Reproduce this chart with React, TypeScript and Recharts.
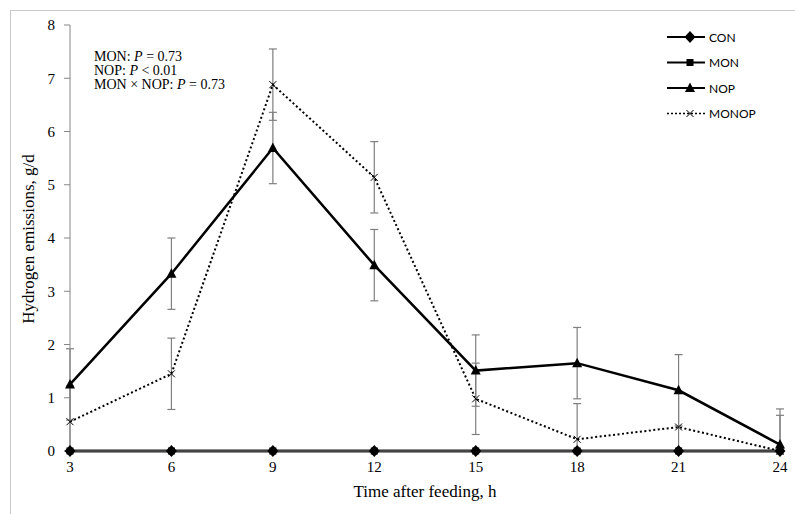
import React from 'react';
import { LineChart, Line, XAxis, YAxis, ErrorBar } from 'recharts';

const hours = [3, 6, 9, 12, 15, 18, 21, 24];
const con = [0, 0, 0, 0, 0, 0, 0, 0];
const mon = [0, 0, 0, 0, 0, 0, 0, 0];
const nop = [1.25, 3.33, 5.69, 3.49, 1.51, 1.65, 1.14, 0.12];
const monop = [0.55, 1.45, 6.88, 5.14, 0.98, 0.22, 0.45, 0.0];
const nopSE = [0.67, 0.67, 0.67, 0.67, 0.67, 0.67, 0.67, 0.67];
const monopSE = [0.67, 0.67, 0.67, 0.67, 0.67, 0.67, 0.67, 0.67];
const xTicks = [3, 6, 9, 12, 15, 18, 21, 24];
const yTicks = [0, 1, 2, 3, 4, 5, 6, 7, 8];
const seriesNames = ['CON', 'MON', 'NOP', 'MONOP'];

const data = hours.map((h, i) => ({
  h,
  con: con[i],
  mon: mon[i],
  nop: nop[i],
  monop: monop[i],
  nopErr: [Math.min(nop[i], nopSE[i]), nopSE[i]],
  monopErr: [Math.min(monop[i], monopSE[i]), monopSE[i]],
}));

const Diamond = (p: any) => {
  const { cx, cy } = p;
  if (cx == null || cy == null) return <g />;
  return <polygon points={`${cx},${cy - 6} ${cx + 5.5},${cy} ${cx},${cy + 6} ${cx - 5.5},${cy}`} fill="#000" />;
};
const Square = (p: any) => {
  const { cx, cy } = p;
  if (cx == null || cy == null) return <g />;
  return <rect x={cx - 3.5} y={cy - 3.5} width={7} height={7} fill="#000" />;
};
const Triangle = (p: any) => {
  const { cx, cy } = p;
  if (cx == null || cy == null) return <g />;
  return <polygon points={`${cx},${cy - 5.5} ${cx + 5},${cy + 4} ${cx - 5},${cy + 4}`} fill="#000" />;
};
const Cross = (p: any) => {
  const { cx, cy } = p;
  if (cx == null || cy == null) return <g />;
  return (
    <g stroke="#000" strokeWidth={1}>
      <line x1={cx - 3.5} y1={cy - 3.5} x2={cx + 3.5} y2={cy + 3.5} />
      <line x1={cx - 3.5} y1={cy + 3.5} x2={cx + 3.5} y2={cy - 3.5} />
    </g>
  );
};

const LegendBox = () => {
  const rows = [
    { name: seriesNames[0], marker: Diamond, dash: undefined },
    { name: seriesNames[1], marker: Square, dash: undefined },
    { name: seriesNames[2], marker: Triangle, dash: undefined },
    { name: seriesNames[3], marker: Cross, dash: '2 2' },
  ];
  return (
    <svg width={130} height={110} style={{ position: 'absolute', left: 660, top: 25 }}>
      {rows.map((r, i) => {
        const y = 12 + i * 25.5;
        const M = r.marker;
        return (
          <g key={r.name}>
            <line x1={7} y1={y} x2={45} y2={y} stroke="#000" strokeWidth={r.dash ? 1.3 : 2} strokeDasharray={r.dash} />
            <M cx={30} cy={y} />
            <text x={49} y={y + 4.5} fontFamily="Lato, 'Open Sans', sans-serif" fontSize={12} fill="#000">{r.name}</text>
          </g>
        );
      })}
    </svg>
  );
};

export default function App() {
  return (
    <div style={{ position: 'absolute', left: 0, top: 0, width: 795, height: 514, background: '#fff', overflow: 'hidden', fontFamily: "'Liberation Serif', serif" }}>
      <div style={{ position: 'absolute', left: 10, top: 10, width: 800, height: 520, border: '1px solid #c8c8c8' }} />
      <LineChart
        width={795}
        height={514}
        data={data}
        margin={{ top: 25, right: 15, bottom: 33, left: 30 }}
        style={{ position: 'absolute', left: 0, top: 0 }}
      >
        <XAxis
          dataKey="h"
          type="number"
          domain={[3, 24]}
          ticks={xTicks}
          height={30}
          tickLine={false}
          tickSize={0}
          tickMargin={10}
          axisLine={{ stroke: '#868686' }}
          tick={{ fill: '#000', fontSize: 15, fontFamily: "'Liberation Serif', serif" }}
          interval={0}
        />
        <YAxis
          type="number"
          domain={[0, 8]}
          ticks={yTicks}
          width={40}
          tickSize={6}
          tickMargin={9}
          axisLine={{ stroke: '#868686' }}
          tickLine={{ stroke: '#868686' }}
          tick={{ fill: '#000', fontSize: 15, fontFamily: "'Liberation Serif', serif" }}
          interval={0}
        />
        <Line
          dataKey="monop"
          name="MONOP"
          stroke="#000"
          strokeWidth={2}
          strokeDasharray="2 2.5"
          dot={<Cross />}
          activeDot={false}
          isAnimationActive={false}
        >
          <ErrorBar dataKey="monopErr" direction="y" width={4} stroke="#7f7f7f" strokeWidth={1.2} />
        </Line>
        <Line
          dataKey="nop"
          name="NOP"
          stroke="#000"
          strokeWidth={2.5}
          dot={<Triangle />}
          activeDot={false}
          isAnimationActive={false}
        >
          <ErrorBar dataKey="nopErr" direction="y" width={4} stroke="#7f7f7f" strokeWidth={1.2} />
        </Line>
        <Line dataKey="mon" name="MON" stroke="#000" strokeWidth={2.5} dot={<Square />} activeDot={false} isAnimationActive={false} />
        <Line dataKey="con" name="CON" stroke="#000" strokeWidth={2.5} dot={<Diamond />} activeDot={false} isAnimationActive={false} />
      </LineChart>
      <LegendBox />
      <div style={{ position: 'absolute', left: 94, top: 50, fontSize: 14, lineHeight: '14px', color: '#000', whiteSpace: 'nowrap' }}>
        <div>MON: <i>P</i> = 0.73</div>
        <div>NOP: <i>P</i> &lt; 0.01</div>
        <div>MON × NOP: <i>P</i> = 0.73</div>
      </div>
      <div style={{ position: 'absolute', left: 225, top: 482, width: 400, textAlign: 'center', fontSize: 17, color: '#000' }}>
        Time after feeding, h
      </div>
      <div style={{ position: 'absolute', left: 30, top: 239, width: 0, height: 0 }}>
        <div style={{ position: 'absolute', left: -150, top: -11, width: 300, textAlign: 'center', fontSize: 17, color: '#000', transform: 'rotate(-90deg)', transformOrigin: '150px 11px', whiteSpace: 'nowrap' }}>
          Hydrogen emissions, g/d
        </div>
      </div>
    </div>
  );
}
